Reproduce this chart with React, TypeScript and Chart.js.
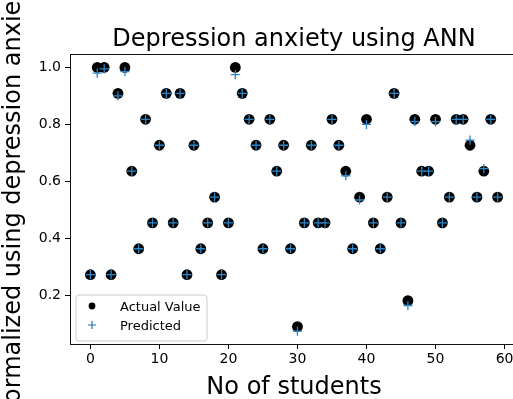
import React, { useEffect, useRef } from "react";
import { Chart, registerables } from "chart.js";

Chart.register(...registerables);

const students: number[] = Array.from({ length: 60 }, (_, i) => i);

const actualValues: number[] = [
  0.273, 1.0, 1.0, 0.273, 0.909, 1.0, 0.636, 0.364, 0.818, 0.455,
  0.727, 0.909, 0.455, 0.909, 0.273, 0.727, 0.364, 0.455, 0.545, 0.273,
  0.455, 1.0, 0.909, 0.818, 0.727, 0.364, 0.818, 0.636, 0.727, 0.364,
  0.091, 0.455, 0.727, 0.455, 0.455, 0.818, 0.727, 0.636, 0.364, 0.545,
  0.818, 0.455, 0.364, 0.545, 0.909, 0.455, 0.182, 0.818, 0.636, 0.636,
  0.818, 0.455, 0.545, 0.818, 0.818, 0.727, 0.545, 0.636, 0.818, 0.545,
];

const predictedValues: number[] = [
  0.273, 0.98, 0.995, 0.273, 0.9, 0.985, 0.636, 0.364, 0.818, 0.455,
  0.727, 0.909, 0.455, 0.909, 0.273, 0.727, 0.364, 0.455, 0.545, 0.273,
  0.455, 0.975, 0.909, 0.818, 0.727, 0.364, 0.818, 0.636, 0.727, 0.364,
  0.075, 0.455, 0.727, 0.455, 0.455, 0.818, 0.727, 0.62, 0.364, 0.535,
  0.8, 0.455, 0.364, 0.545, 0.909, 0.455, 0.165, 0.81, 0.636, 0.636,
  0.81, 0.455, 0.545, 0.818, 0.818, 0.745, 0.545, 0.645, 0.818, 0.545,
];

const xTicks: number[] = [0, 10, 20, 30, 40, 50, 60];
const yTicks: number[] = [0.2, 0.4, 0.6, 0.8, 1.0];

const titleText = "Depression anxiety using ANN";
const xLabel = "No of students";
const yLabel = "Normalized using depression anxiety";

const FONT = "'DejaVu Sans', 'Liberation Sans', sans-serif";

const decorPlugin = {
  id: "decor",
  afterDraw(chart: any) {
    const ctx = chart.ctx as CanvasRenderingContext2D;
    const a = chart.chartArea;
    ctx.save();
    // frame
    ctx.strokeStyle = "#111";
    ctx.lineWidth = 1;
    ctx.strokeRect(Math.round(a.left) + 0.5, Math.round(a.top) + 0.5, Math.round(a.right - a.left), Math.round(a.bottom - a.top));
    const cx = (a.left + a.right) / 2;
    // title
    ctx.fillStyle = "#000";
    ctx.font = `24px ${FONT}`;
    ctx.textAlign = "center";
    ctx.textBaseline = "alphabetic";
    ctx.fillText(titleText, cx, 46);
    // x label
    ctx.fillText(xLabel, cx, 394);
    // y label
    ctx.save();
    ctx.translate(20, (a.top + a.bottom) / 2);
    ctx.rotate(-Math.PI / 2);
    ctx.fillText(yLabel, 0, 0);
    ctx.restore();
    // legend
    const lx = 76, ly = 295, lw = 131, lh = 46, r = 3;
    ctx.beginPath();
    ctx.moveTo(lx + r, ly);
    ctx.lineTo(lx + lw - r, ly);
    ctx.quadraticCurveTo(lx + lw, ly, lx + lw, ly + r);
    ctx.lineTo(lx + lw, ly + lh - r);
    ctx.quadraticCurveTo(lx + lw, ly + lh, lx + lw - r, ly + lh);
    ctx.lineTo(lx + r, ly + lh);
    ctx.quadraticCurveTo(lx, ly + lh, lx, ly + lh - r);
    ctx.lineTo(lx, ly + r);
    ctx.quadraticCurveTo(lx, ly, lx + r, ly);
    ctx.closePath();
    ctx.fillStyle = "rgba(255,255,255,0.8)";
    ctx.fill();
    ctx.strokeStyle = "#cccccc";
    ctx.stroke();
    const ds = chart.data.datasets;
    // actual marker
    ctx.fillStyle = "#000";
    ctx.beginPath();
    ctx.arc(92, 306, 3.4, 0, Math.PI * 2);
    ctx.fill();
    // predicted marker
    ctx.strokeStyle = "#1f77b4";
    ctx.lineWidth = 1.2;
    ctx.beginPath();
    ctx.moveTo(88, 325);
    ctx.lineTo(96, 325);
    ctx.moveTo(92, 321);
    ctx.lineTo(92, 329);
    ctx.stroke();
    ctx.fillStyle = "#000";
    ctx.font = `13px ${FONT}`;
    ctx.textAlign = "left";
    ctx.fillText(ds[0].label, 120, 311);
    ctx.fillText(ds[1].label, 120, 330);
    ctx.restore();
  },
};

export default function App() {
  const ref = useRef<HTMLCanvasElement | null>(null);
  useEffect(() => {
    if (!ref.current) return;
    const chart = new Chart(ref.current, {
      type: "scatter",
      data: {
        datasets: [
          {
            label: "Actual Value",
            data: students.map((x, i) => ({ x, y: actualValues[i] })),
            pointStyle: "circle",
            pointRadius: 5.4,
            pointBackgroundColor: "#000",
            pointBorderWidth: 0,
            order: 1,
          },
          {
            label: "Predicted",
            data: students.map((x, i) => ({ x, y: predictedValues[i] })),
            pointStyle: "cross",
            pointRadius: 4.6,
            pointBorderColor: "#2a86c8",
            pointBorderWidth: 1.3,
            order: 0,
          },
        ],
      },
      options: {
        animation: false,
        responsive: false,
        events: [],
        layout: { padding: { top: 54, right: 7, bottom: 0, left: 0 } },
        plugins: { legend: { display: false }, title: { display: false }, tooltip: { enabled: false } },
        scales: {
          x: {
            type: "linear",
            min: -2.95,
            max: 61.95,
            afterBuildTicks: (s: any) => { s.ticks = xTicks.map((v) => ({ value: v })); },
            afterFit: (s: any) => { s.height = 55; },
            grid: { drawOnChartArea: false, drawTicks: true, tickLength: 5, tickColor: "#000", tickWidth: 1 },
            border: { display: false },
            ticks: { color: "#000", font: { family: FONT, size: 14 }, padding: 2, maxRotation: 0, callback: (v: any) => String(v) },
          },
          y: {
            type: "linear",
            min: 0.03,
            max: 1.047,
            afterBuildTicks: (s: any) => { s.ticks = yTicks.map((v) => ({ value: v })); },
            afterFit: (s: any) => { s.width = 70; },
            grid: { drawOnChartArea: false, drawTicks: true, tickLength: 5, tickColor: "#000", tickWidth: 1 },
            border: { display: false },
            ticks: { color: "#000", font: { family: FONT, size: 14 }, padding: 4, callback: (v: any) => Number(v).toFixed(1) },
          },
        },
      },
      plugins: [decorPlugin],
    });
    return () => chart.destroy();
  }, []);
  return (
    <div style={{ position: "fixed", left: 0, top: 0, width: 513, height: 399, overflow: "hidden", background: "#fff" }}>
      <canvas ref={ref} width={525} height={399} style={{ display: "block" }} />
    </div>
  );
}
